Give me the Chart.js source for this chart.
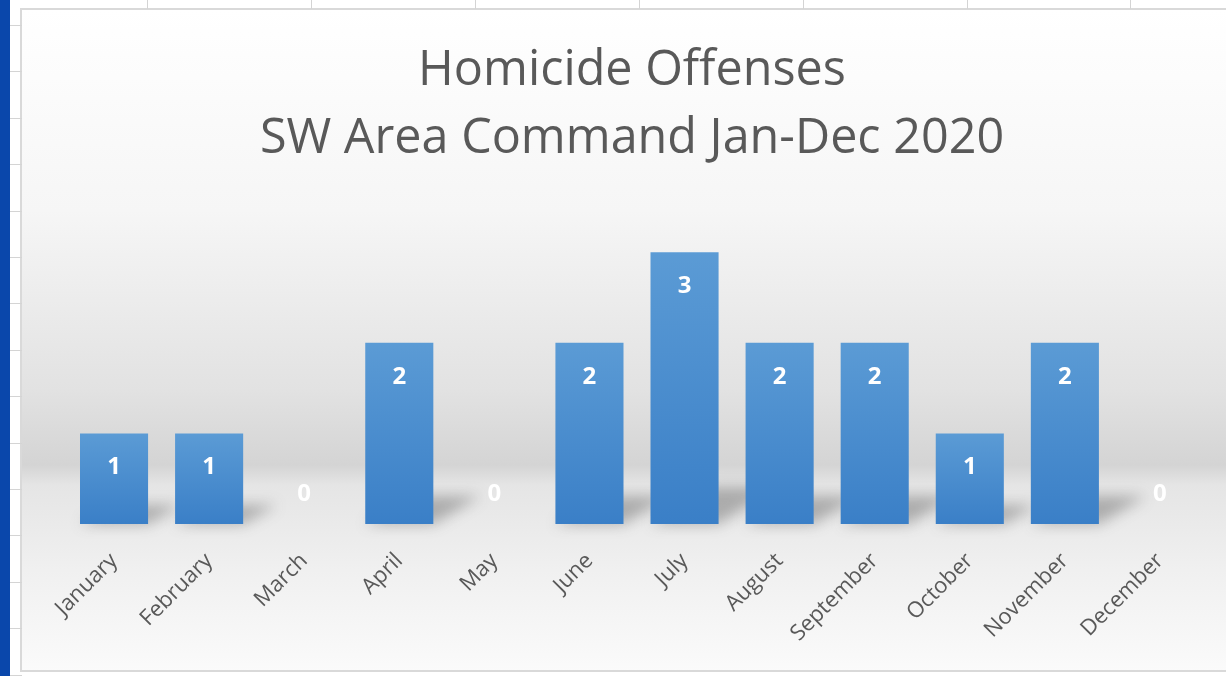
<!DOCTYPE html>
<html>
<head>
<meta charset="utf-8">
<script src="https://cdn.jsdelivr.net/npm/chart.js@4"></script>
<style>
    html, body { margin: 0; padding: 0; overflow: hidden; background: #fff; }
    body { width: 1226px; height: 676px; position: relative; }
    #strip { position: absolute; left: 0; top: 0; width: 10px; height: 676px; background: #0a47ab; }
    .row { position: absolute; left: 10px; width: 12px; height: 1px; background: #d4d4d4; }
    .col { position: absolute; top: 0; width: 1px; height: 9px; background: #d4d4d4; }
    #box {
        position: absolute; left: 20px; top: 8px; width: 1230px; height: 664px;
        border: 2px solid #d9d9d9; box-sizing: border-box;
        background: linear-gradient(to bottom, #ffffff 0px, #f6f6f6 200px, #e2e2e2 380px, #d4d4d4 455px, #e5e5e5 475px, #f0f0f0 560px, #fbfbfb 664px);
    }
    #wrap { position: absolute; left: 21px; top: 9px; width: 1222px; height: 663px; }
</style>
</head>
<body>
<div id="strip"></div>
<div id="box"></div>
<div id="wrap"><canvas id="chart"></canvas></div>

<script>
    const months = ['January', 'February', 'March', 'April', 'May', 'June',
        'July', 'August', 'September', 'October', 'November', 'December'];
    const homicides = [1, 1, 0, 2, 0, 2, 3, 2, 2, 1, 2, 0];
    const titleLines = ['Homicide Offenses', 'SW Area Command Jan-Dec 2020'];

    // spreadsheet grid peeking out behind the chart
    for (let i = 0; i < 15; i++) {
        const r = document.createElement('div');
        r.className = 'row';
        r.style.top = Math.round(25 + i * 46.4) + 'px';
        document.body.appendChild(r);
    }
    [147, 311, 475, 639, 803, 967, 1130].forEach(x => {
        const c = document.createElement('div');
        c.className = 'col';
        c.style.left = x + 'px';
        document.body.appendChild(c);
    });

    function barFill(ctx) {
        const chart = ctx.chart;
        if (!chart.chartArea) return '#4a8dd0';
        const y = chart.scales.y;
        const top = y.getPixelForValue(ctx.raw);
        const base = y.getPixelForValue(0);
        if (top >= base) return '#4a8dd0';
        const g = chart.ctx.createLinearGradient(0, top, 0, base);
        g.addColorStop(0, '#5b9bd5');
        g.addColorStop(1, '#3a7fc7');
        return g;
    }

    // soft floor shadow behind each bar
    const shadows = {
        id: 'shadows',
        beforeDatasetsDraw(chart) {
            const ctx = chart.ctx;
            const meta = chart.getDatasetMeta(0);
            ctx.save();
            ctx.filter = 'blur(7px)';
            ctx.fillStyle = 'rgba(60,60,60,0.35)';
            meta.data.forEach((bar, i) => {
                if (!homicides[i]) return;
                const h = bar.base - bar.y;
                const half = bar.width / 2;
                const dx = 20 + 0.15 * h, dy = 10 + 0.1 * h;
                ctx.beginPath();
                ctx.moveTo(bar.x - half, bar.base);
                ctx.lineTo(bar.x + half, bar.base);
                ctx.lineTo(bar.x + half + dx, bar.base - dy);
                ctx.lineTo(bar.x - half + dx, bar.base - dy);
                ctx.closePath();
                ctx.fill();
            });
            ctx.restore();
        }
    };

    const valueLabels = {
        id: 'valueLabels',
        afterDatasetsDraw(chart) {
            const ctx = chart.ctx;
            const meta = chart.getDatasetMeta(0);
            ctx.save();
            ctx.fillStyle = '#ffffff';
            ctx.font = 'bold 24px "Open Sans"';
            ctx.textAlign = 'center';
            ctx.textBaseline = 'middle';
            meta.data.forEach((bar, i) => {
                const v = homicides[i];
                const y = v ? bar.y + 34 : bar.base - 30;
                ctx.fillText(String(v), bar.x, y);
            });
            ctx.restore();
        }
    };

    const hiddenAxis = {
        display: true,
        grid: { display: false, drawTicks: false },
        border: { display: false },
        ticks: { display: false }
    };

    new Chart(document.getElementById('chart'), {
        type: 'bar',
        data: {
            labels: months,
            datasets: [{
                data: homicides,
                backgroundColor: barFill,
                borderWidth: 0,
                categoryPercentage: 1,
                barPercentage: 0.716
            }]
        },
        options: {
            responsive: true,
            maintainAspectRatio: false,
            animation: false,
            layout: { padding: 0 },
            plugins: {
                legend: { display: false },
                tooltip: { enabled: false },
                title: {
                    display: true,
                    text: titleLines,
                    color: '#595959',
                    font: { family: 'Open Sans', size: 48.5, weight: 'normal', lineHeight: 68 / 48.5 },
                    padding: { top: 28, bottom: 34 }
                }
            },
            scales: {
                x: {
                    grid: { display: false, drawTicks: false },
                    border: { display: false },
                    ticks: {
                        color: '#595959',
                        font: { family: 'Open Sans', size: 22 },
                        minRotation: 45,
                        maxRotation: 45,
                        padding: 24
                    },
                    afterFit(scale) { scale.height = 148; }
                },
                y: {
                    ...hiddenAxis,
                    min: 0,
                    max: 3.5,
                    afterFit(scale) { scale.width = 45.5; }
                },
                // empty right axis keeps the title centred on the whole box
                yRight: {
                    ...hiddenAxis,
                    position: 'right',
                    min: 0,
                    max: 3.5,
                    afterFit(scale) { scale.width = 35.5; }
                }
            }
        },
        plugins: [shadows, valueLabels]
    });
</script>
</body>
</html>
